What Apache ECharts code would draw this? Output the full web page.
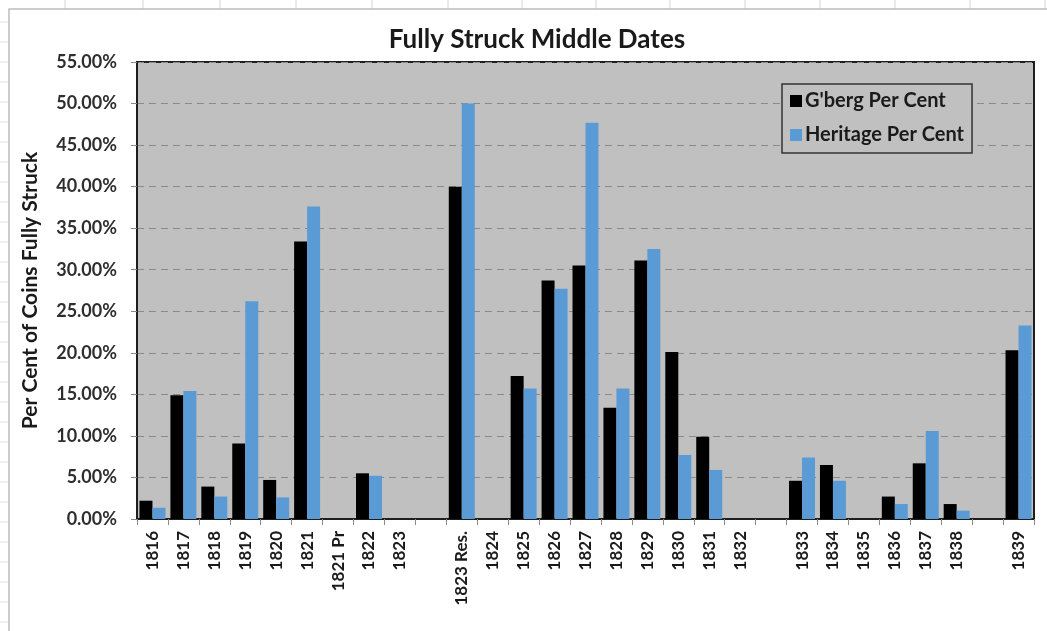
<!DOCTYPE html>
<html>
<head>
<meta charset="utf-8">
<script src="https://cdn.jsdelivr.net/npm/echarts@6/dist/echarts.min.js"></script>
<style>
html,body{margin:0;padding:0;background:#fff;}
#chart{width:1047px;height:631px;}
</style>
</head>
<body>
<div id="chart"></div>
<script>
// Categories (blank strings are empty slots on the axis)
const categories = ['1816','1817','1818','1819','1820','1821','1821 Pr','1822','1823','',
  '1823 Res.','1824','1825','1826','1827','1828','1829','1830','1831','1832',' ',
  '1833','1834','1835','1836','1837','1838','  ','1839'];
// Per cent values
const gbergPerCent = [2.2,14.9,3.9,9.1,4.7,33.4,0,5.5,0,null,
  40.0,0,17.2,28.7,30.5,13.4,31.1,20.1,9.9,0,null,
  4.6,6.5,0,2.7,6.7,1.8,null,20.3];
const heritagePerCent = [1.35,15.4,2.7,26.2,2.6,37.6,0,5.2,0,null,
  50.0,0,15.7,27.7,47.7,15.7,32.5,7.7,5.9,0,null,
  7.4,4.6,0,1.8,10.6,1.0,null,23.3];
const seriesNames = ["G'berg Per Cent", 'Heritage Per Cent'];
const chartTitle = 'Fully Struck Middle Dates';
const yAxisTitle = 'Per Cent of Coins Fully Struck';

const chart = echarts.init(document.getElementById('chart'));
const FONT = 'Lato';
const gfx = [];
// spreadsheet-like background lines
[65,143,220,296,372,448,522,596,670,745,820,895,970,1045].forEach(x => {
  gfx.push({type:'line', shape:{x1:x,y1:0,x2:x,y2:9}, style:{stroke:'#d4d4d4', lineWidth:1}, silent:true});
});
for (let y = 22; y < 631; y += 20) {
  gfx.push({type:'line', shape:{x1:0,y1:y,x2:8,y2:y}, style:{stroke:'#e2e2e2', lineWidth:1}, silent:true});
}
gfx.push({type:'polyline', shape:{points:[[9,631],[9,9],[1047,9]]}, style:{stroke:'#bdbdbd', lineWidth:1.5, fill:null}, silent:true});

chart.setOption({
  animation: false,
  backgroundColor: '#ffffff',
  graphic: gfx,
  title: {
    text: chartTitle,
    left: 532, top: 22, textAlign: 'center',
    textStyle: {fontFamily: FONT, fontWeight: 'bold', fontSize: 26, color: '#1a1a1a'}
  },
  legend: {
    orient: 'vertical',
    left: 782, top: 84,
    padding: [7, 8, 8, 8],
    itemGap: 14,
    itemWidth: 12, itemHeight: 12,
    icon: 'rect',
    borderColor: '#333', borderWidth: 1.5,
    backgroundColor: '#c0c0c0',
    textStyle: {fontFamily: FONT, fontWeight: 'bold', fontSize: 20, color: '#1a1a1a', padding: [0,0,0,-2]},
    data: seriesNames
  },
  grid: {
    left: 137, right: 13, top: 62, bottom: 112,
    show: true, backgroundColor: '#c0c0c0', borderColor: '#1e1e1e', borderWidth: 2
  },
  xAxis: {
    type: 'category',
    data: categories,
    axisLine: {show: true, lineStyle: {color: '#1e1e1e', width: 2}},
    axisTick: {show: true, alignWithLabel: false, interval: 0, length: 6, lineStyle: {color: '#888'}},
    axisLabel: {interval: 0, rotate: 90, margin: 12, fontFamily: FONT, fontWeight: 'bold', fontSize: 17, color: '#1a1a1a'},
    splitLine: {show: false}
  },
  yAxis: {
    type: 'value',
    min: 0, max: 55, interval: 5,
    name: yAxisTitle,
    nameLocation: 'middle',
    nameGap: 96,
    nameRotate: 90,
    nameTextStyle: {fontFamily: FONT, fontWeight: 'bold', fontSize: 21, color: '#1a1a1a'},
    axisLine: {show: true, lineStyle: {color: '#1e1e1e', width: 2}},
    axisTick: {show: true, length: 6, lineStyle: {color: '#888'}},
    axisLabel: {margin: 20, fontFamily: FONT, fontWeight: 'bold', fontSize: 18, color: '#2e2e2e',
      formatter: v => v.toFixed(2) + '%'},
    splitLine: {show: true, lineStyle: {color: '#8a8a8a', type: [7, 5], width: 1}}
  },
  series: [
    {name: seriesNames[0], type: 'bar', data: gbergPerCent, barGap: '0%', barCategoryGap: '16%',
     itemStyle: {color: '#000000'}},
    {name: seriesNames[1], type: 'bar', data: heritagePerCent, barGap: '0%', barCategoryGap: '16%',
     itemStyle: {color: '#5b9bd5'}}
  ]
});
</script>
</body>
</html>
